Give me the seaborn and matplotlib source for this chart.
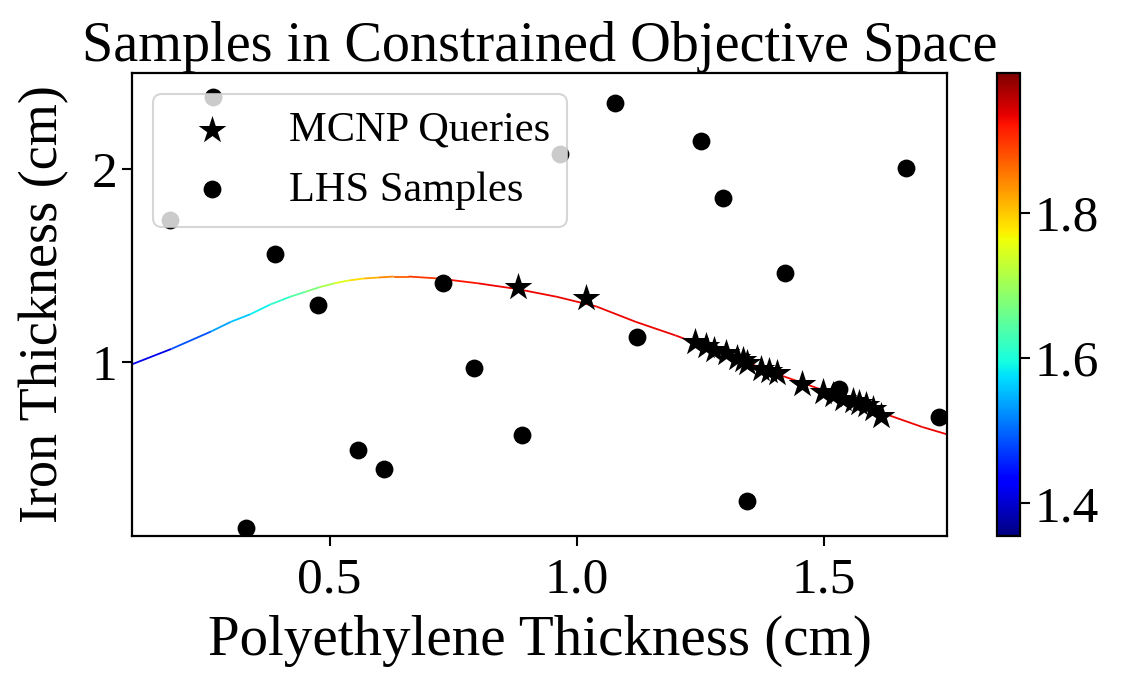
import numpy as np
import pandas as pd
import matplotlib
matplotlib.use("Agg")
import matplotlib.pyplot as plt
from matplotlib.collections import LineCollection
from matplotlib.colors import Normalize
import seaborn as sns

# Constrained front (curve)
curve_x = [0.10, 0.18, 0.26, 0.30, 0.34, 0.38, 0.42, 0.45, 0.48, 0.51, 0.54, 0.57, 0.60, 0.63,
           0.66, 0.72, 0.80, 0.88, 0.96, 1.04, 1.12, 1.20, 1.30, 1.40, 1.50, 1.60, 1.70, 1.75]
curve_y = [0.99, 1.07, 1.16, 1.21, 1.25, 1.30, 1.34, 1.365, 1.39, 1.41, 1.425, 1.435, 1.44, 1.445,
           1.445, 1.435, 1.41, 1.38, 1.34, 1.29, 1.21, 1.14, 1.045, 0.945, 0.855, 0.755, 0.665, 0.627]
curve_c = [1.38, 1.45, 1.52, 1.55, 1.57, 1.60, 1.63, 1.66, 1.69, 1.73, 1.77, 1.80, 1.83, 1.86,
           1.88, 1.91, 1.93, 1.93, 1.93, 1.93, 1.93, 1.93, 1.93, 1.93, 1.93, 1.93, 1.93, 1.93]

# MCNP queries (stars)
mcnp_x = [0.881, 1.020, 1.239, 1.262, 1.279, 1.303, 1.325, 1.336, 1.346, 1.374, 1.390, 1.405,
          1.457, 1.498, 1.520, 1.540, 1.559, 1.572, 1.587, 1.600, 1.617]
mcnp_y = [1.389, 1.332, 1.105, 1.085, 1.062, 1.050, 1.025, 1.012, 0.998, 0.966, 0.955, 0.945,
          0.886, 0.848, 0.830, 0.812, 0.800, 0.790, 0.778, 0.760, 0.722]

# LHS samples (circles)
lhs_x = [0.263, 0.176, 0.389, 0.476, 0.729, 0.792, 0.557, 0.611, 0.330, 0.889,
         0.966, 1.077, 1.251, 1.296, 1.423, 1.666, 1.123, 1.346, 1.733, 1.532]
lhs_y = [2.378, 1.736, 1.560, 1.295, 1.410, 0.969, 0.544, 0.446, 0.140, 0.622,
         2.078, 2.342, 2.145, 1.850, 1.461, 2.005, 1.130, 0.280, 0.715, 0.860]

cbar_ticks = [1.4, 1.6, 1.8]
cbar_min, cbar_max = 1.355, 1.992

sns.set_theme(style="ticks")
plt.rcParams['font.family'] = ['Liberation Serif', 'DejaVu Serif']
plt.rcParams['text.color'] = 'black'

fig = plt.figure(figsize=(11.21, 6.76), dpi=100)
ax = fig.add_axes([132/1121, 1-536/676, (947-132)/1121, (536-73)/676])
cax = fig.add_axes([997/1121, 1-536/676, 23/1121, (536-73)/676])

norm = Normalize(cbar_min, cbar_max)
pts = np.column_stack([curve_x, curve_y])
segs = np.stack([pts[:-1], pts[1:]], axis=1)
cvals = (np.array(curve_c[:-1]) + np.array(curve_c[1:])) / 2
lc = LineCollection(segs, cmap='jet', norm=norm, linewidth=1.3, zorder=1)
lc.set_array(cvals)
ax.add_collection(lc)

df_m = pd.DataFrame({"x": mcnp_x, "y": mcnp_y})
df_l = pd.DataFrame({"x": lhs_x, "y": lhs_y})
sns.scatterplot(data=df_m, x="x", y="y", ax=ax, marker="*", s=440, color="black",
                edgecolor="black", linewidth=0, label="MCNP Queries", zorder=3)
sns.scatterplot(data=df_l, x="x", y="y", ax=ax, marker="o", s=165, color="black",
                edgecolor="black", linewidth=0, label="LHS Samples", zorder=2)

ax.set_xlim(0.1, 1.75)
ax.set_ylim(0.1, 2.5)
ax.set_xticks([0.5, 1.0, 1.5])
ax.set_xticklabels(["0.5", "1.0", "1.5"])
ax.set_yticks([1, 2])
ax.set_yticklabels(["1", "2"])
ax.tick_params(labelsize=37, length=7, width=1.5, color="black", labelcolor="black")
ax.tick_params(axis="x", pad=8)
for sp in ax.spines.values():
    sp.set_visible(True)
    sp.set_color("black")
    sp.set_linewidth(1.6)

ax.set_xlabel("Polyethylene Thickness (cm)", fontsize=41, color="black", labelpad=8)
ax.set_ylabel("Iron Thickness (cm)", fontsize=39, color="black", labelpad=16)
ax.set_title("Samples in Constrained Objective Space", fontsize=40.5, color="black", pad=8)

leg = ax.legend(loc="upper left", fontsize=30.5, frameon=True, framealpha=0.8)
leg.get_frame().set_edgecolor("#cccccc")
leg.get_frame().set_linewidth(1.5)
for t in leg.get_texts():
    t.set_color("black")

sm = matplotlib.cm.ScalarMappable(norm=norm, cmap='jet')
cb = fig.colorbar(sm, cax=cax)
cb.set_ticks(cbar_ticks)
cb.set_ticklabels(["1.4", "1.6", "1.8"])
cb.ax.tick_params(labelsize=37, length=7, width=1.5, color="black", labelcolor="black")
cb.outline.set_linewidth(1.6)
cb.outline.set_edgecolor("black")

fig.savefig("out.png", dpi=100)
